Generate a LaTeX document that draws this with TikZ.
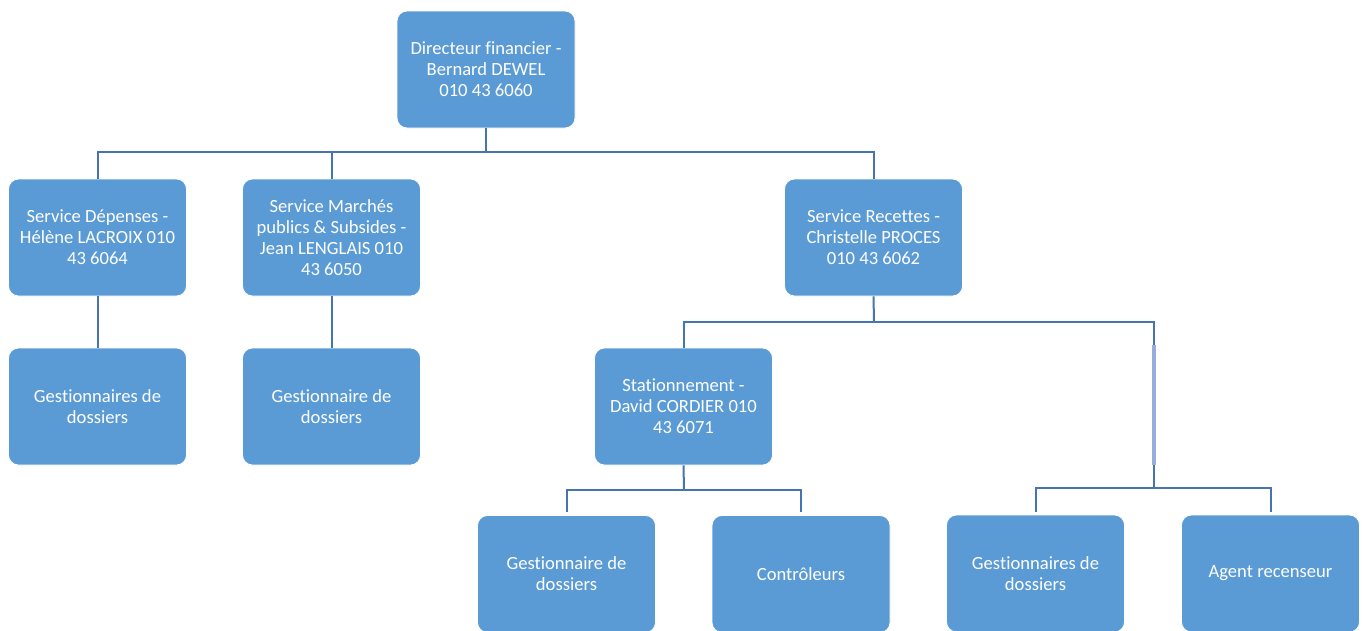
\documentclass[tikz,border=0pt]{standalone}
\usepackage{fontspec}
\setmainfont{Carlito}[Ligatures={NoCommon,NoContextual}]
\definecolor{boxblue}{HTML}{5B9BD5}
\definecolor{lineblue}{HTML}{4475B0}
\definecolor{lightline}{HTML}{95AEDD}
\begin{document}
\begin{tikzpicture}[x=1pt,y=-1pt,
  orgbox/.style={rectangle, rounded corners=10pt, fill=boxblue, draw=white, line width=0.8pt,
    minimum width=178pt, minimum height=117pt, text=white, align=center, inner sep=0pt,
    font=\fontsize{18.6}{21}\selectfont},
  conn/.style={draw=lineblue, line width=2pt}]
\useasboundingbox[fill=white] (0,0) rectangle (1365,630);
% nodes
\node[orgbox] (top) at (486,69.5) {Directeur financier -\\Bernard DEWEL\\010 43 6060};
\node[orgbox] (dep) at (97.5,237.5) {Service Dépenses -\\Hélène LACROIX 010\\43 6064};
\node[orgbox] (mar) at (331.5,237.5) {Service Marchés\\publics \& Subsides -\\Jean LENGLAIS 010\\43 6050};
\node[orgbox] (rec) at (873.5,237.5) {Service Recettes -\\Christelle PROCES\\010 43 6062};
\node[orgbox] (gd1) at (97.5,406.5) {Gestionnaires de\\dossiers};
\node[orgbox] (gd2) at (331.5,406.5) {Gestionnaire de\\dossiers};
\node[orgbox] (sta) at (683.5,406.5) {Stationnement -\\David CORDIER 010\\43 6071};
\node[orgbox] (g3) at (566.5,574) {Gestionnaire de\\dossiers};
\node[orgbox] (ctl) at (801,574) {Contrôleurs};
\node[orgbox] (g4) at (1035.5,573.5) {Gestionnaires de\\dossiers};
\node[orgbox] (agt) at (1270.5,573.5) {Agent recenseur};
% junctions
\coordinate (j1) at (486,152);
\coordinate (j2) at (874,322);
\coordinate (j3) at (1154,488);
\coordinate (j4) at (684,489.5);
\coordinate (la) at (1154,345);
\coordinate (lb) at (1154,465);
% connectors
\draw[conn] (top.south) -- (j1);
\draw[conn] (j1) -| (dep.north);
\draw[conn] (j1) -| (mar.north);
\draw[conn] (j1) -| (rec.north);
\draw[conn] (dep.south) -- (gd1.north);
\draw[conn] (mar.south) -- (gd2.north);
\draw[conn] (rec.south) -- (j2);
\draw[conn] (j2) -| (sta.north);
\draw[conn] (j2) -| (j3);
\draw[draw=lightline, line width=4pt] (la) -- (lb);
\draw[conn] (j3) -| ([yshift=3pt]g4.north);
\draw[conn] (j3) -| ([yshift=3pt]agt.north);
\draw[conn] (sta.south) -- (j4);
\draw[conn] (j4) -| ([yshift=3pt]g3.north);
\draw[conn] (j4) -| ([yshift=3pt]ctl.north);
\end{tikzpicture}
\end{document}
